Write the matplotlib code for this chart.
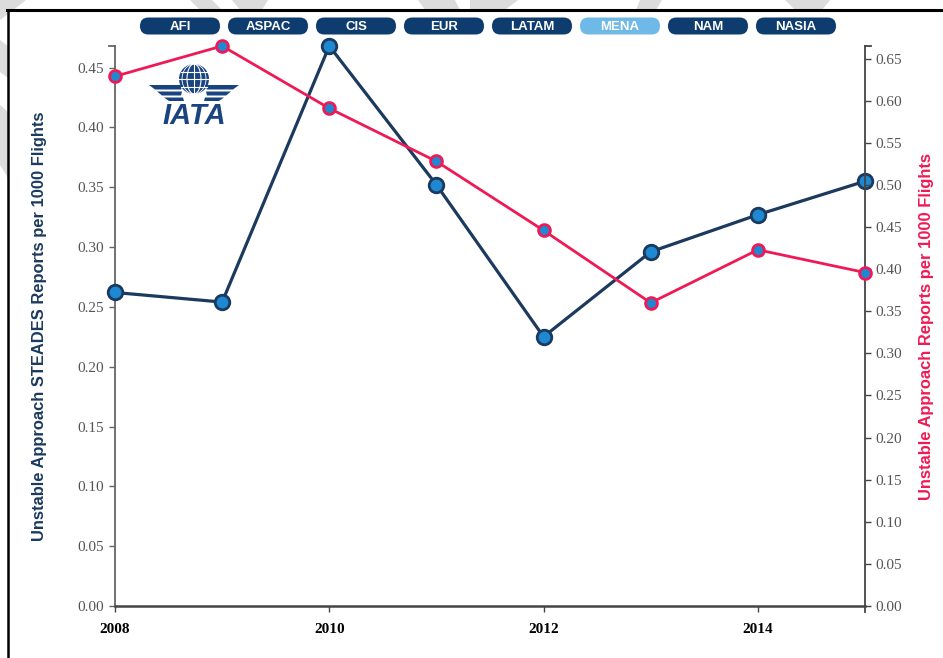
import matplotlib
matplotlib.use("Agg")
import matplotlib.pyplot as plt
import numpy as np
from matplotlib.patches import FancyBboxPatch, Polygon, Circle, Ellipse, Rectangle
from matplotlib.lines import Line2D

# ---------------- data ----------------
years = [2008, 2009, 2010, 2011, 2012, 2013, 2014, 2015]
steades_rate = [0.262, 0.254, 0.468, 0.352, 0.225, 0.296, 0.327, 0.355]   # left axis
reports_rate = [0.629, 0.665, 0.591, 0.528, 0.446, 0.360, 0.423, 0.396]   # right axis
regions = ["AFI", "ASPAC", "CIS", "EUR", "LATAM", "MENA", "NAM", "NASIA"]
active_region = "MENA"
left_ticks = [0.00, 0.05, 0.10, 0.15, 0.20, 0.25, 0.30, 0.35, 0.40, 0.45]
right_ticks = [0.00, 0.05, 0.10, 0.15, 0.20, 0.25, 0.30, 0.35, 0.40, 0.45, 0.50, 0.55, 0.60, 0.65]
year_ticks = [2008, 2010, 2012, 2014]
left_title = "Unstable Approach STEADES Reports per 1000 Flights"
right_title = "Unstable Approach Reports per 1000 Flights"

NAVY = "#1b3a5e"
RED = "#ef1a55"
FILL = "#1e88d2"
BTN = "#0f3c6e"
BTN_ACTIVE = "#6fb9e8"
TICKGRAY = "#555555"
SPINE = "#666666"

W, H = 943, 658
fig = plt.figure(figsize=(W / 100, H / 100), dpi=100)
fig.patch.set_facecolor("white")

# ---------------- background overlay (pixel coordinates) ----------------
bg = fig.add_axes([0, 0, 1, 1], zorder=0)
bg.set_xlim(0, W)
bg.set_ylim(H, 0)
bg.axis("off")

WM = "#dcdcdc"
wm_polys = [
    [(0, 0), (26, 0), (8, 14), (0, 20)],
    [(0, 40), (8, 46), (8, 78), (0, 72)],
    [(0, 105), (8, 112), (8, 178), (0, 165)],
    [(190, 0), (212, 0), (222, 10), (200, 10)],
    [(232, 0), (268, 0), (262, 10), (240, 10)],
    [(418, 0), (455, 0), (460, 10), (425, 10)],
    [(470, 0), (518, 0), (505, 10), (470, 10)],
    [(640, 0), (662, 0), (656, 10), (636, 10)],
    [(785, 0), (830, 0), (822, 10), (795, 10)],
]
for p in wm_polys:
    bg.add_patch(Polygon(p, closed=True, facecolor=WM, edgecolor="none"))
bg.add_patch(Rectangle((8, 10), W, H, facecolor="white", edgecolor="none"))
bg.add_line(Line2D([7, W], [10, 10], color="black", lw=2.2))
bg.add_line(Line2D([8, 8], [10, H], color="black", lw=1.8))

# ---------------- main axes ----------------
ax = fig.add_axes([115 / W, 52 / H, 750 / W, 560 / H], zorder=1)
ax.patch.set_alpha(0)
ax2 = ax.twinx()

ax.set_xlim(2008, 2015)
ax.set_ylim(0, max(steades_rate))
ax2.set_ylim(0, max(reports_rate))

for a in (ax, ax2):
    a.spines["top"].set_visible(False)
ax.spines["right"].set_visible(False)
ax2.spines["left"].set_visible(False)
ax2.spines["bottom"].set_visible(False)
ax.spines["left"].set_color(SPINE)
ax.spines["left"].set_linewidth(1.3)
ax.spines["bottom"].set_color("#444444")
ax.spines["bottom"].set_linewidth(1.8)
ax2.spines["right"].set_color("#444444")
ax2.spines["right"].set_linewidth(1.3)

ax.set_yticks(left_ticks)
ax.set_yticklabels([f"{v:.2f}" for v in left_ticks])
ax2.set_yticks(right_ticks)
ax2.set_yticklabels([f"{v:.2f}" for v in right_ticks])
ax.set_xticks(year_ticks)
ax.set_xticklabels([str(y) for y in year_ticks])

ax.tick_params(axis="y", length=4.3, width=1, color=SPINE, pad=3.5,
               labelsize=11, labelcolor=TICKGRAY)
ax2.tick_params(axis="y", length=4.3, width=1, color="#444444", pad=3,
                labelsize=11, labelcolor=TICKGRAY)
ax.tick_params(axis="x", length=4.3, width=1, color="#444444", pad=8,
               labelsize=11, labelcolor="black")
for lbl in ax.get_yticklabels() + ax2.get_yticklabels():
    lbl.set_fontfamily("Liberation Serif")
for lbl in ax.get_xticklabels():
    lbl.set_fontfamily("Liberation Serif")
    lbl.set_fontweight("bold")

# outer end ticks of the d3-style axes
ax.plot([-0.008, 0], [1, 1], transform=ax.transAxes, color=SPINE, lw=1.3, clip_on=False)
ax.plot([1, 1.008], [1, 1], transform=ax.transAxes, color="#444444", lw=1.3, clip_on=False)
ax.plot([1, 1], [0, -0.011], transform=ax.transAxes, color="#444444", lw=1.3, clip_on=False)

ax.set_ylabel(left_title, fontfamily="Liberation Sans", fontweight="bold",
              fontsize=11.9, color=NAVY, rotation=90, va="center", ha="center")
ax.yaxis.set_label_coords((40 - 115) / 750, 0.5)
ax2.set_ylabel(right_title, fontfamily="Liberation Sans", fontweight="bold",
               fontsize=11.9, color=RED, rotation=90, va="center", ha="center")
ax2.yaxis.set_label_coords((926 - 115) / 750, 0.5)

ax.plot(years, steades_rate, color=NAVY, lw=2.3, marker="o", ms=10.5,
        mfc=FILL, mec=NAVY, mew=2, clip_on=False, zorder=3)
ax2.plot(years, reports_rate, color=RED, lw=2.0, marker="o", ms=8.5,
         mfc=FILL, mec=RED, mew=2, clip_on=False, zorder=3)

# ---------------- foreground overlay: buttons and logo ----------------
fg = fig.add_axes([0, 0, 1, 1], zorder=2)
fg.set_xlim(0, W)
fg.set_ylim(H, 0)
fg.axis("off")

bx0, bw, bstep, by, bh = 140, 80, 88, 17.5, 17
for i, name in enumerate(regions):
    x = bx0 + i * bstep
    col = BTN_ACTIVE if name == active_region else BTN
    fg.add_patch(FancyBboxPatch((x, by), bw, bh,
                                boxstyle="round,pad=0,rounding_size=8.5",
                                facecolor=col, edgecolor="none"))
    fg.text(x + bw / 2, by + bh / 2 + 0.5, name, color="white", fontsize=9.5,
            fontweight="bold", fontfamily="Liberation Sans", ha="center", va="center")

# IATA logo
LOGO = "#1a4480"
gx, gy, gr = 194, 79, 15
fg.add_patch(Circle((gx, gy), gr, facecolor=LOGO, edgecolor="none"))
for dy in (-7.5, 0, 7.5):
    half = np.sqrt(max(gr ** 2 - dy ** 2, 0))
    fg.add_line(Line2D([gx - half, gx + half], [gy + dy, gy + dy], color="white", lw=0.8))
fg.add_line(Line2D([gx, gx], [gy - gr, gy + gr], color="white", lw=0.8))
fg.add_patch(Ellipse((gx, gy), 14, 2 * gr, facecolor="none", edgecolor="white", lw=0.8))
fg.add_patch(Ellipse((gx, gy), 24, 2 * gr, facecolor="none", edgecolor="white", lw=0.6))

stripes = [
    [(149, 85), (183, 85), (181, 89.5), (155, 89.5)],
    [(157, 91.5), (182, 91.5), (181, 95.5), (162, 95.5)],
    [(164, 97.5), (183, 97.5), (184, 101), (169, 101)],
]
for s in stripes:
    fg.add_patch(Polygon(s, closed=True, facecolor=LOGO, edgecolor="none"))
    mirrored = [(2 * gx - px, py) for (px, py) in s]
    fg.add_patch(Polygon(mirrored, closed=True, facecolor=LOGO, edgecolor="none"))

fg.text(gx, 115.5, "IATA", color=LOGO, fontsize=21, fontweight="bold", fontstyle="italic",
        fontfamily="Liberation Sans", ha="center", va="center")

fig.savefig("out.png", dpi=100, facecolor="white")
